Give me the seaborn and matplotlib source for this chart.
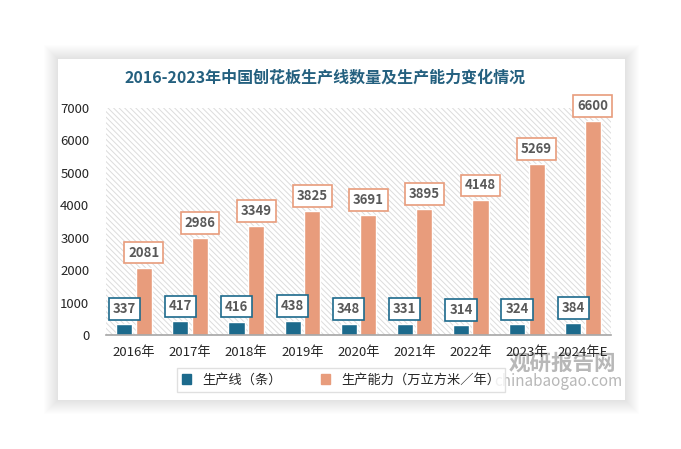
import matplotlib
matplotlib.use("Agg")
import matplotlib.pyplot as plt
import matplotlib.patches as mpatches
import pandas as pd
import seaborn as sns

years = ["2016年", "2017年", "2018年", "2019年", "2020年", "2021年", "2022年", "2023年", "2024年E"]
lines = [337, 417, 416, 438, 348, 331, 314, 324, 384]
capacity = [2081, 2986, 3349, 3825, 3691, 3895, 4148, 5269, 6600]
series_names = ["生产线（条）", "生产能力（万立方米／年）"]
colors = ["#1c6a8c", "#e89c7c"]

df = pd.DataFrame({
    "year": years * 2,
    "value": lines + capacity,
    "series": [series_names[0]] * len(years) + [series_names[1]] * len(years),
})

sns.set_style("white")
plt.rcParams["font.family"] = ["Noto Sans CJK SC", "DejaVu Sans"]
plt.rcParams["hatch.linewidth"] = 0.7

W, H = 681, 449
fig = plt.figure(figsize=(W / 100, H / 100), dpi=100)
fig.patch.set_facecolor("white")

# card with soft shadow
cx0, cy0, cx1, cy1 = 58, 59, 625, 400
for i in range(14, 0, -1):
    fig.patches.append(mpatches.Rectangle(
        ((cx0 - i) / W, 1 - (cy1 + i) / H), (cx1 - cx0 + 2 * i) / W, (cy1 - cy0 + 2 * i) / H,
        transform=fig.transFigure, facecolor="#000000", alpha=0.007, lw=0, zorder=-2))
fig.patches.append(mpatches.Rectangle(
    (cx0 / W, 1 - cy1 / H), (cx1 - cx0) / W, (cy1 - cy0) / H,
    transform=fig.transFigure, facecolor="white", lw=0, zorder=-1))

# watermark (behind the chart)
fig.text(562 / W, 1 - 363 / H, "观研报告网", ha="center", va="center", fontsize=15.5,
         fontweight="bold", color="#a0a0a0", alpha=0.75, zorder=-0.5)
fig.text(558 / W, 1 - 382 / H, "chinabaogao.com", ha="center", va="center", fontsize=11,
         color="#a0a0a0", alpha=0.75, zorder=-0.5)

ax = fig.add_axes([106 / W, 1 - 335 / H, (611 - 106) / W, (335 - 108) / H], zorder=1)
ax.set_facecolor("none")
ax.add_patch(mpatches.Rectangle((0, 0), 1, 1, transform=ax.transAxes, facecolor="white",
                                edgecolor="#dcdcdc", hatch="\\\\\\\\\\\\", lw=0, zorder=0))

sns.barplot(data=df, x="year", y="value", hue="series", palette=colors, saturation=1,
            width=0.7, gap=0.18, edgecolor="white", linewidth=1, ax=ax, zorder=2)

ax.set_ylim(0, 7000)
ax.set_xlim(-0.5, len(years) - 0.5)
ax.set_yticks(range(0, 7001, 1000))
ax.set_xlabel("")
ax.set_ylabel("")
for s in ["left", "right", "top"]:
    ax.spines[s].set_visible(False)
ax.spines["bottom"].set_color("#a6a6a6")
ax.spines["bottom"].set_linewidth(1.2)
ax.tick_params(axis="both", length=0, labelsize=9.5, colors="#262626")
ax.tick_params(axis="x", pad=8)
ax.tick_params(axis="y", pad=12)
ax.get_legend().remove()

for cont, col in zip(ax.containers, colors):
    for bar in cont:
        h = bar.get_height()
        ax.annotate(f"{int(round(h))}", (bar.get_x() + bar.get_width() / 2, h),
                    xytext=(0, 15), textcoords="offset pixels", ha="center", va="center",
                    fontsize=9.5, fontweight="bold", color="#595959", zorder=5,
                    bbox=dict(boxstyle="square,pad=0.3", fc="white", ec=col, lw=1.2))

fig.text(0.478, 1 - 78 / H, "2016-2023年中国刨花板生产线数量及生产能力变化情况",
         ha="center", va="center", fontsize=11.5, fontweight="bold", color="#24607f")

handles = [mpatches.Patch(color=c) for c in colors]
leg = fig.legend(handles, series_names, loc="center", bbox_to_anchor=(341 / W, 1 - 380 / H),
                 ncol=2, frameon=True, fancybox=False, edgecolor="#d9d9d9", fontsize=9.5,
                 handlelength=0.7, handleheight=0.7, columnspacing=3, borderpad=0.4)
leg.set_zorder(2)

fig.savefig("out.png", dpi=100)
